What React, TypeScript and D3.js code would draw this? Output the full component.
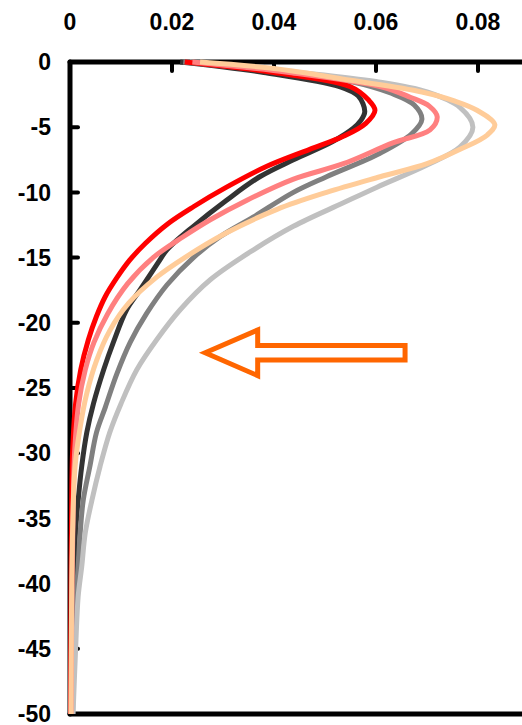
import React from "react";
import * as d3 from "d3";

// depth (m, positive down) , value
const blackPts: [number, number][] = [
  [0, 0.0216], [0.8, 0.038], [1.9, 0.053], [2.6, 0.0565], [3.8, 0.0578], [4.5, 0.057],
  [5.1, 0.0555], [6.1, 0.0515], [7.5, 0.0438], [8.8, 0.0372], [10.6, 0.0307], [12.6, 0.0242],
  [14.4, 0.019], [15.2, 0.0176], [17.5, 0.0137], [19, 0.0111], [21.5, 0.0085], [23.6, 0.0066],
  [26.2, 0.0046], [28.4, 0.0033], [31, 0.0023], [33.6, 0.0016], [36, 0.0011], [40, 0.0007],
  [45, 0.0005], [50, 0.0004],
];
const darkGrayPts: [number, number][] = [
  [0, 0.0222], [0.8, 0.042], [1.5, 0.055], [2.4, 0.063], [3.3, 0.0675], [4.4, 0.069],
  [5.5, 0.067], [7, 0.0608], [8.8, 0.0503], [10, 0.0438], [11.9, 0.0359], [13.4, 0.0294],
  [15, 0.0242], [17.1, 0.019], [19.3, 0.015], [21.5, 0.0118], [23.9, 0.0092], [26.5, 0.0069],
  [28.4, 0.0052], [31, 0.0039], [33.6, 0.0026], [36.1, 0.002], [38.7, 0.0016], [41, 0.0012],
  [45, 0.0008], [50, 0.0005],
];
const lightGrayPts: [number, number][] = [
  [0, 0.0235], [0.8, 0.045], [1.5, 0.06], [2.3, 0.07], [3.5, 0.0765], [5, 0.079],
  [6.5, 0.0765], [7.9, 0.07], [9.6, 0.0602], [10.8, 0.0536], [12.6, 0.0438], [14.4, 0.036],
  [16.7, 0.0275], [19, 0.0216], [21.3, 0.017], [23.6, 0.0131], [26.2, 0.01], [28.4, 0.0078],
  [31, 0.0059], [33.6, 0.0043], [36.1, 0.003], [38.7, 0.0023], [41, 0.0016], [45, 0.0011],
  [50, 0.0006],
];
const redPts: [number, number][] = [
  [0, 0.0225], [0.75, 0.039], [1.9, 0.055], [2.9, 0.0585], [3.7, 0.0598], [4.7, 0.058],
  [5.7, 0.0536], [6.7, 0.047], [8, 0.0386], [9.6, 0.0307], [11.1, 0.0242], [12.4, 0.0192],
  [13.9, 0.0148], [15.2, 0.0117], [16.6, 0.0091], [18, 0.0069], [19.5, 0.0052], [21.3, 0.0036],
  [23.6, 0.0021], [26.2, 0.0011], [30, 0.0005], [35, 0.0003], [40, 0.0002], [50, 0.0001],
];
const pinkPts: [number, number][] = [
  [0, 0.024], [0.8, 0.043], [1.9, 0.061], [2.7, 0.0667], [3.4, 0.0705], [4.2, 0.072],
  [5.2, 0.0706], [6.2, 0.0633], [7.8, 0.0536], [9, 0.0437], [10.6, 0.0347], [12.1, 0.0275],
  [13.4, 0.0222], [15, 0.0163], [17, 0.0113], [19.3, 0.0074], [21.5, 0.0047], [23.6, 0.003],
  [26.2, 0.0017], [30, 0.0009], [35, 0.0006], [40, 0.0004], [50, 0.0002],
];
const peachPts: [number, number][] = [
  [0, 0.0255], [0.5, 0.04], [1.4, 0.055], [2.3, 0.069], [3, 0.0755], [3.7, 0.0798],
  [4.8, 0.0833], [5.6, 0.0818], [6.7, 0.0765], [7.8, 0.07], [8.8, 0.0608], [10, 0.0503],
  [11.3, 0.0406], [13.1, 0.0307], [15, 0.0225], [16.5, 0.017], [18.5, 0.0115], [20.6, 0.0078],
  [22.9, 0.0052], [25.4, 0.0033], [28, 0.002], [31, 0.001], [36, 0.0005], [42, 0.0003],
  [50, 0.0002],
];

const series = [
  { pts: blackPts, color: "#333333" },
  { pts: darkGrayPts, color: "#808080" },
  { pts: lightGrayPts, color: "#c0c0c0" },
  { pts: redPts, color: "#ff0000" },
  { pts: pinkPts, color: "#ff8080" },
  { pts: peachPts, color: "#ffcc99" },
];

const xTicks = [0, 0.02, 0.04, 0.06, 0.08];
const xTickLabels = ["0", "0.02", "0.04", "0.06", "0.08"];
const yTicks = [0, -5, -10, -15, -20, -25, -30, -35, -40, -45, -50];

// arrow annotation (data space): tip, head base, tail, centre depth
const arrowX = [0.0265, 0.0368, 0.0657];
const arrowDepth = 22.3;
const arrowHead = 1.75;
const arrowShaft = 0.55;

const width = 522,
  height = 725;

const x = d3.scaleLinear().domain([0, 0.09]).range([70, 529]);
const y = d3.scaleLinear().domain([0, -50]).range([62, 714]);

const line = d3
  .line<[number, number]>()
  .x((d) => x(d[1]))
  .y((d) => y(-d[0]))
  .curve(d3.curveCatmullRom);

const font = "'Liberation Sans', Arial, sans-serif";

export default function App() {
  const [tip, base, tail] = arrowX;
  const arrow = d3.path();
  arrow.moveTo(x(tip), y(-arrowDepth));
  arrow.lineTo(x(base), y(-(arrowDepth - arrowHead)));
  arrow.lineTo(x(base), y(-(arrowDepth - arrowShaft)));
  arrow.lineTo(x(tail), y(-(arrowDepth - arrowShaft)));
  arrow.lineTo(x(tail), y(-(arrowDepth + arrowShaft)));
  arrow.lineTo(x(base), y(-(arrowDepth + arrowShaft)));
  arrow.lineTo(x(base), y(-(arrowDepth + arrowHead)));
  arrow.closePath();

  return (
    <svg
      width={width}
      height={height}
      style={{ position: "absolute", left: 0, top: 0, background: "#fff" }}
    >
      {/* axes */}
      <g stroke="#000" strokeLinecap="round">
        <line x1={x(0)} x2={width + 10} y1={y(0)} y2={y(0)} strokeWidth={5} />
        <line x1={x(0)} x2={x(0)} y1={y(0)} y2={y(-50)} strokeWidth={5} />
        <line x1={x(0)} x2={width + 10} y1={y(-50)} y2={y(-50)} strokeWidth={5} />
        {xTicks.slice(1).map((t) => (
          <line key={t} x1={x(t)} x2={x(t)} y1={y(0)} y2={y(0) + 9} strokeWidth={4} />
        ))}
        {yTicks.slice(1, -1).map((t) => (
          <line key={t} x1={x(0)} x2={x(0) + 8} y1={y(t)} y2={y(t)} strokeWidth={4} />
        ))}
      </g>
      <g fontFamily={font} fontWeight="bold" fontSize={23} fill="#000">
        {xTicks.map((t, i) => (
          <text key={t} x={x(t)} y={30} textAnchor="middle">
            {xTickLabels[i]}
          </text>
        ))}
        {yTicks.map((t) => (
          <text key={t} x={51} y={y(t)} dy="0.36em" textAnchor="end">
            {t}
          </text>
        ))}
      </g>
      {/* profiles */}
      <g fill="none" strokeWidth={5} strokeLinejoin="round">
        {series.map((s) => (
          <path key={s.color} d={line(s.pts) || ""} stroke={s.color} />
        ))}
      </g>
      <path d={arrow.toString()} fill="#fff" stroke="#ff6600" strokeWidth={5} />
    </svg>
  );
}
